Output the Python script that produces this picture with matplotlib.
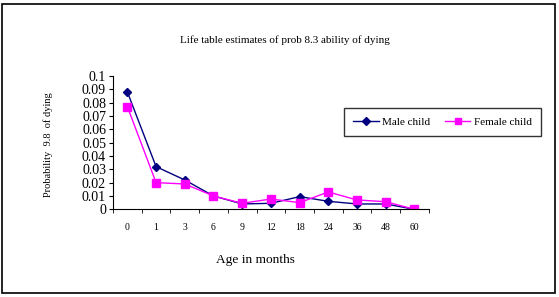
import matplotlib.pyplot as plt
from matplotlib.patches import Rectangle

ages = ['0', '1', '3', '6', '9', '12', '18', '24', '36', '48', '60']
male = [0.088, 0.032, 0.022, 0.010, 0.004, 0.0045, 0.0095, 0.006, 0.004, 0.004, 0.0]
female = [0.077, 0.020, 0.019, 0.010, 0.0045, 0.0077, 0.005, 0.013, 0.007, 0.0057, 0.0]
yticks = [0, 0.01, 0.02, 0.03, 0.04, 0.05, 0.06, 0.07, 0.08, 0.09, 0.1]
ytick_labels = ['0', '0.01', '0.02', '0.03', '0.04', '0.05', '0.06', '0.07', '0.08', '0.09', '0.1']

plt.rcParams['font.family'] = ['Liberation Serif', 'DejaVu Serif']

fig = plt.figure(figsize=(5.59, 2.97), dpi=100)
ax = fig.add_axes([0.2022, 0.2953, 0.767 - 0.2022, 0.744 - 0.2953])

x = list(range(len(ages)))
ax.plot(x, male, color='#000080', marker='D', markersize=4.5, lw=1, label='Male child')
ax.plot(x, female, color='#FF00FF', marker='s', markersize=6, lw=1, label='Female child')

ax.set_xlim(-0.5, len(ages) - 0.5)
ax.set_ylim(0, 0.1)
ax.set_yticks(yticks)
ax.set_yticklabels(ytick_labels, fontsize=10)
ax.set_xticks(x)
ax.set_xticklabels(ages, fontsize=7)
ax.set_xticks([i - 0.5 for i in range(len(ages) + 1)], minor=True)
ax.tick_params(axis='x', which='major', length=0, pad=10)
ax.tick_params(axis='x', which='minor', length=3, direction='out')
ax.tick_params(axis='y', length=3, direction='out', pad=2)
ax.spines['top'].set_visible(False)
ax.spines['right'].set_visible(False)

ax.set_xlabel('Age in months', fontsize=9.6)
ax.xaxis.set_label_coords(0.4525, -0.335)
ax.set_ylabel('Probability  9.8  of dying', fontsize=7.5)
ax.yaxis.set_label_coords(-0.19, 0.482)
fig.text(0.51, 0.866, 'Life table estimates of prob 8.3 ability of dying',
         ha='center', va='center', fontsize=8)

leg = ax.legend(loc='center', bbox_to_anchor=(442.5 / 559, 1 - 122 / 297),
                bbox_transform=fig.transFigure, ncol=2, fontsize=8, frameon=True,
                fancybox=False, edgecolor='black', borderpad=0.85, handlelength=2.3,
                handletextpad=0.3, columnspacing=1.3, borderaxespad=0, markerscale=0.8)
leg.get_frame().set_linewidth(1)

fig.patches.append(Rectangle((2 / 559, 4 / 297), 553 / 559, 289 / 297, transform=fig.transFigure,
                             fill=False, edgecolor='black', lw=1.2))

fig.savefig('out.png', dpi=100)
